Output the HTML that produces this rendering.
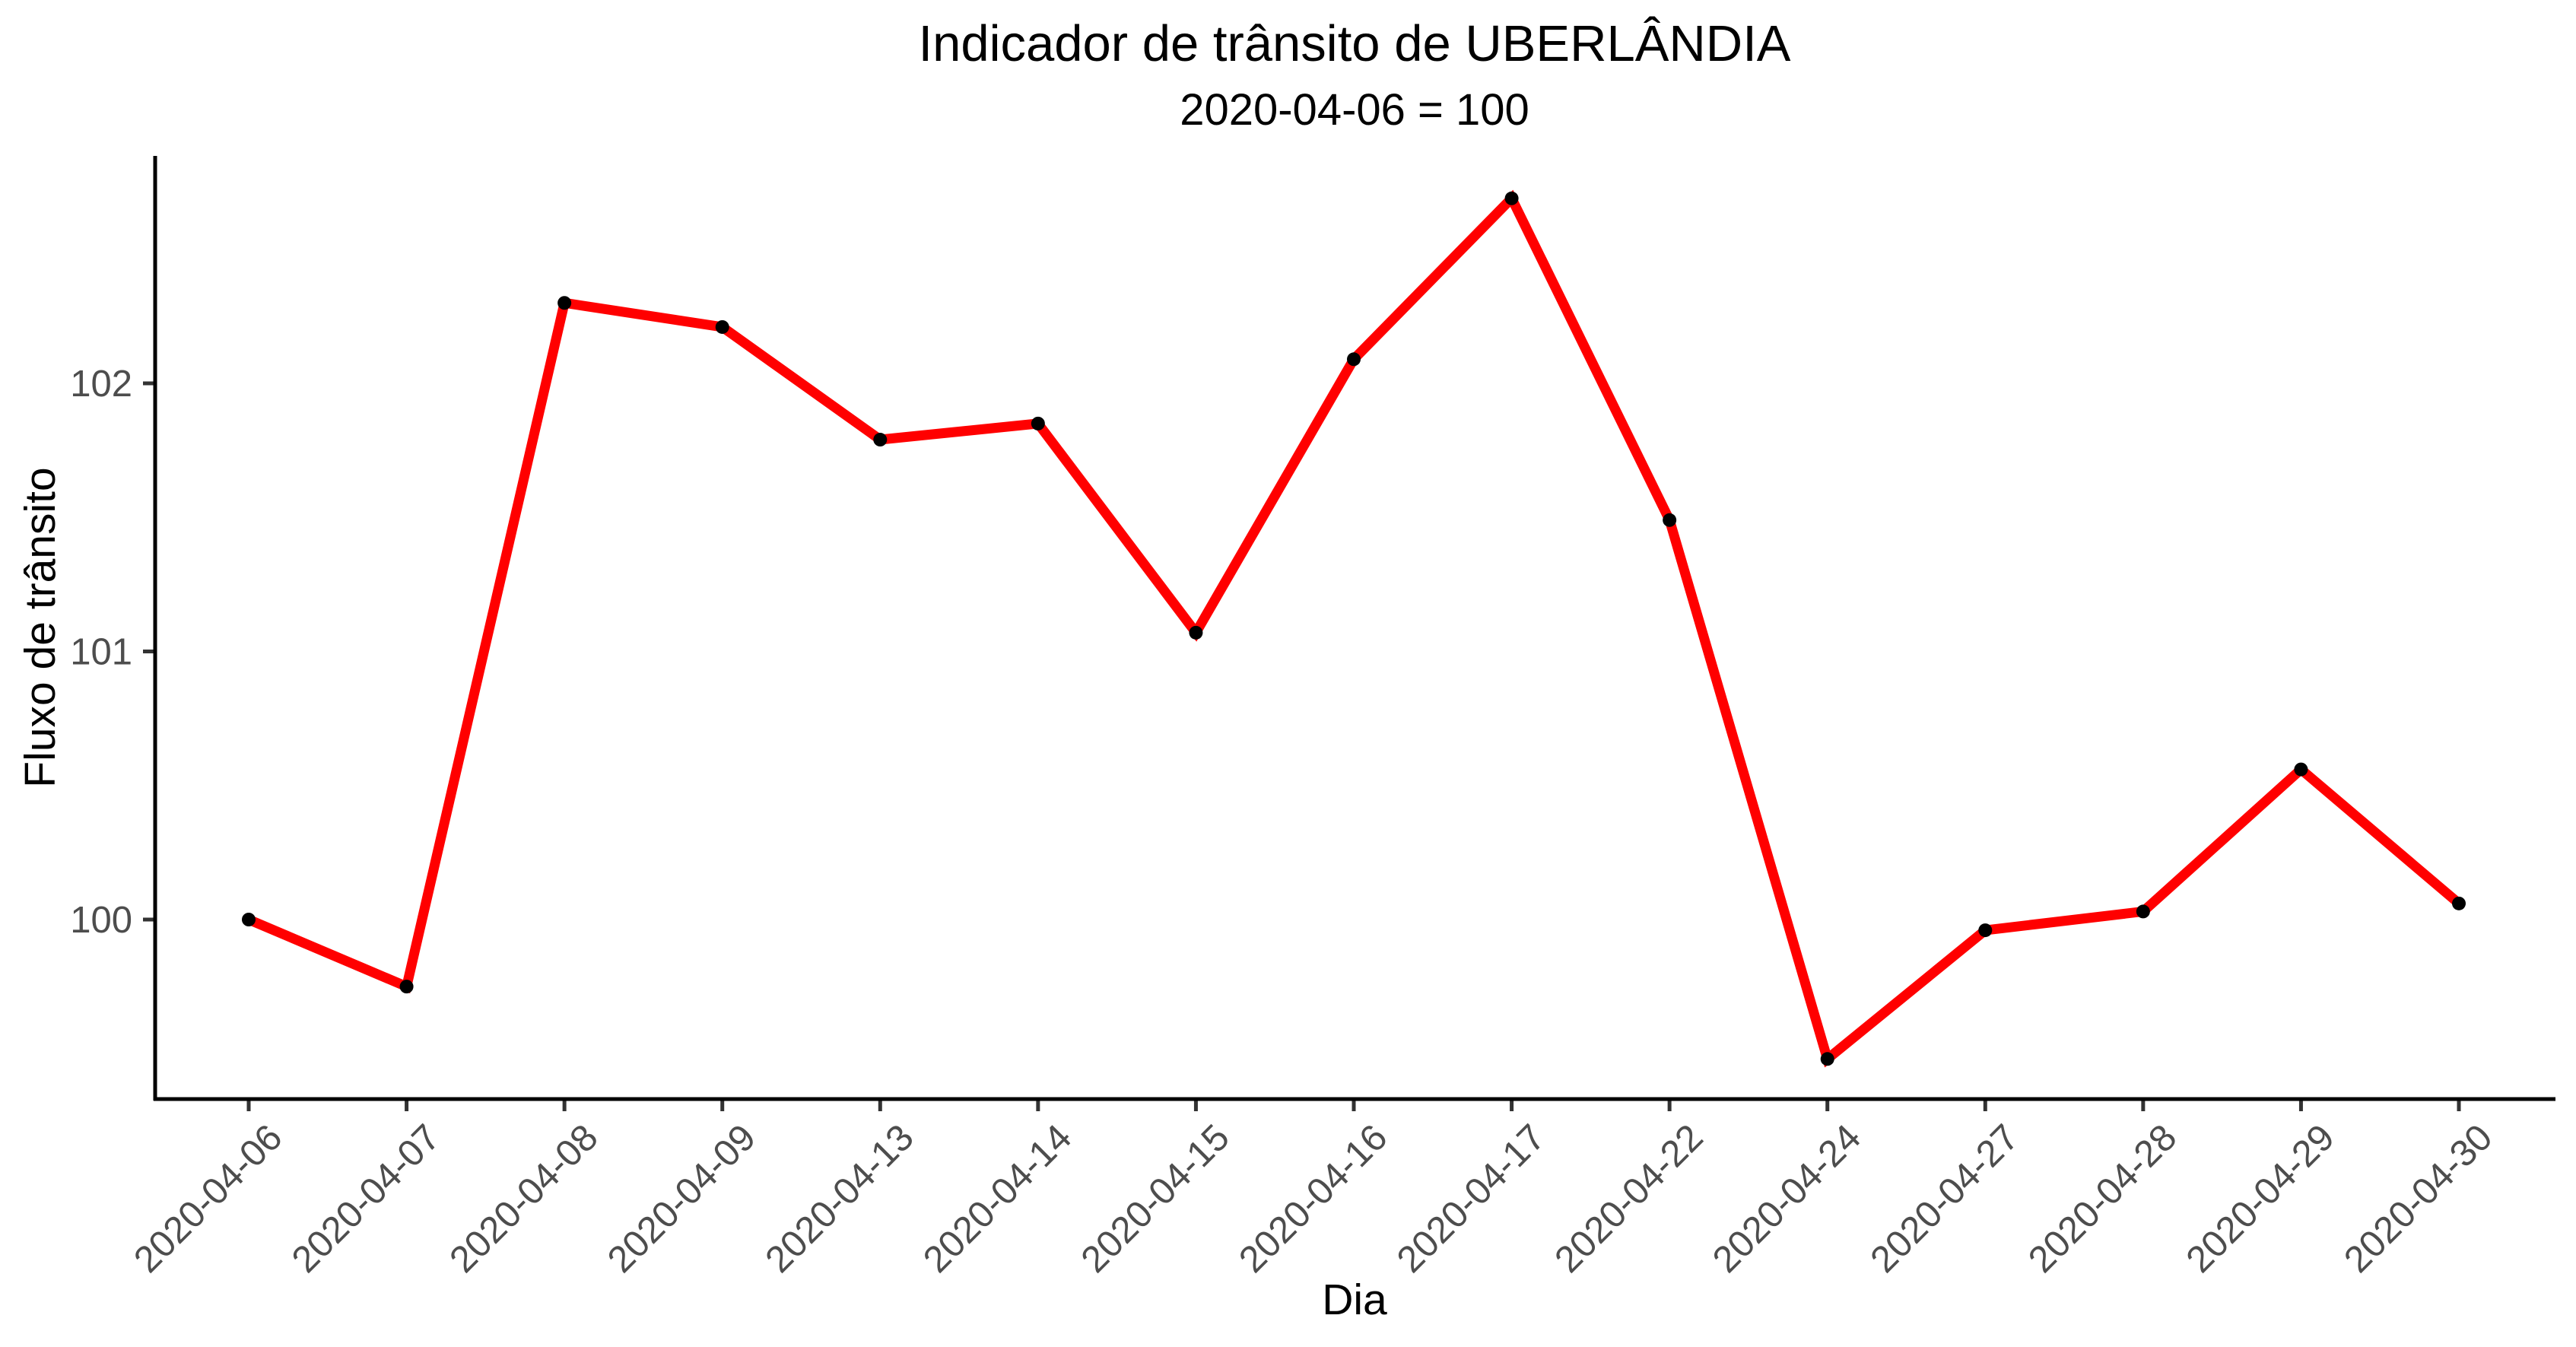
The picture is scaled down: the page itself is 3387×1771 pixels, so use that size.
<!DOCTYPE html>
<html><head><meta charset="utf-8"><style>
html,body{margin:0;padding:0;background:#fff;}
svg{display:block;font-family:"Liberation Sans",Arial,sans-serif;}
</style></head><body>
<svg id="chart" width="3387" height="1771" viewBox="0 0 3387 1771">
<text x="1781" y="80" font-size="67" text-anchor="middle" fill="#000">Indicador de trânsito de UBERLÂNDIA</text>
<text x="1781" y="164" font-size="58" text-anchor="middle" fill="#000">2020-04-06 = 100</text>
<g id="yaxis"></g>
<g id="xaxis"></g>
<g id="series"></g>
<line x1="204" y1="205" x2="204" y2="1447" stroke="#000" stroke-width="5"/>
<line x1="202" y1="1445" x2="3360" y2="1445" stroke="#000" stroke-width="5"/>
<text x="1781" y="1728" font-size="57" text-anchor="middle" fill="#000">Dia</text>
<text transform="translate(72,825) rotate(-90)" font-size="57" text-anchor="middle" fill="#000">Fluxo de trânsito</text>
</svg>
<script>
const categories = ["2020-04-06","2020-04-07","2020-04-08","2020-04-09","2020-04-13","2020-04-14","2020-04-15","2020-04-16","2020-04-17","2020-04-22","2020-04-24","2020-04-27","2020-04-28","2020-04-29","2020-04-30"];
const values = [100, 99.75, 102.30, 102.21, 101.79, 101.85, 101.07, 102.09, 102.69, 101.49, 99.48, 99.96, 100.03, 100.56, 100.06];
const yTicks = [100, 101, 102];

const NS = "http://www.w3.org/2000/svg";
const x0 = 327, xStep = (3233 - 327) / 14;
function xScale(i){ return x0 + i * xStep; }
function yScale(v){ return 1209 - (v - 100) * 352.5; }
function mk(tag, attrs, parent){
  const e = document.createElementNS(NS, tag);
  for (const k in attrs) e.setAttribute(k, attrs[k]);
  parent.appendChild(e); return e;
}
const yg = document.getElementById('yaxis');
yTicks.forEach(t => {
  const y = yScale(t);
  const l = mk('line', {x1:188, x2:204, y1:y, y2:y, stroke:'#333', 'stroke-width':5}, yg);
  
  
  const tx = mk('text', {x:174, y:y+17, 'font-size':49, 'text-anchor':'end', fill:'#4d4d4d'}, yg);
  tx.textContent = t;
  
  
});
const xg = document.getElementById('xaxis');
categories.forEach((c, i) => {
  const x = xScale(i);
  const l = mk('line', {x1:x, x2:x, y1:1445, y2:1461, stroke:'#333', 'stroke-width':5}, xg);
  
  
  const tx = mk('text', {transform:`translate(${x+22},${1474}) rotate(-45)`, 'font-size':49, 'text-anchor':'end', fill:'#4d4d4d', y:35}, xg);
  tx.textContent = c;
  
  
});
const sg = document.getElementById('series');
const pts = values.map((v, i) => xScale(i) + ',' + yScale(v)).join(' ');
const pl = mk('polyline', {points:pts, fill:'none', stroke:'#ff0000', 'stroke-width':13, 'stroke-linejoin':'miter'}, sg);


values.forEach((v, i) => {
  const c = mk('circle', {cx:xScale(i), cy:yScale(v), r:9, fill:'#000'}, sg);
  
  
});
</script>
</body></html>
